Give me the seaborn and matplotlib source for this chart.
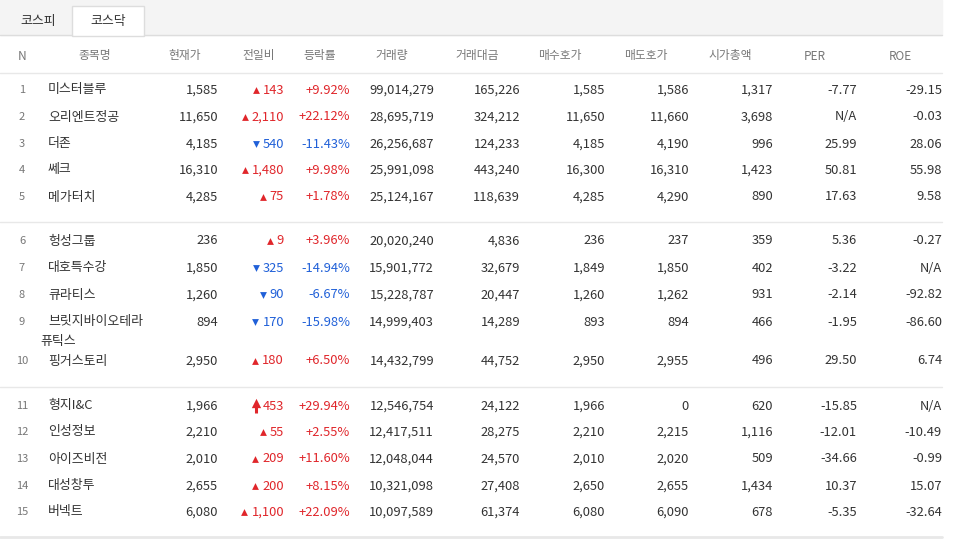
import matplotlib
matplotlib.use('Agg')
import seaborn as sns
import matplotlib.pyplot as plt
from matplotlib import font_manager
from matplotlib.patches import Rectangle

ranks = list(range(1, 16))
names = ["미스터블루", "오리엔트정공", "더존", "쎄크", "메가터치",
         "헝성그룹", "대호특수강", "큐라티스", "브릿지바이오테라\n퓨틱스", "핑거스토리",
         "형지I&C", "인성정보", "아이즈비전", "대성창투", "버넥트"]
price = ["1,585", "11,650", "4,185", "16,310", "4,285", "236", "1,850", "1,260", "894", "2,950",
         "1,966", "2,210", "2,010", "2,655", "6,080"]
change = ["143", "2,110", "540", "1,480", "75", "9", "325", "90", "170", "180",
          "453", "55", "209", "200", "1,100"]
direction = ["up", "up", "down", "up", "up", "up", "down", "down", "down", "up",
             "limit", "up", "up", "up", "up"]
rate = ["+9.92%", "+22.12%", "-11.43%", "+9.98%", "+1.78%", "+3.96%", "-14.94%", "-6.67%", "-15.98%", "+6.50%",
        "+29.94%", "+2.55%", "+11.60%", "+8.15%", "+22.09%"]
volume = ["99,014,279", "28,695,719", "26,256,687", "25,991,098", "25,124,167", "20,020,240", "15,901,772",
          "15,228,787", "14,999,403", "14,432,799", "12,546,754", "12,417,511", "12,048,044", "10,321,098", "10,097,589"]
amount = ["165,226", "324,212", "124,233", "443,240", "118,639", "4,836", "32,679", "20,447", "14,289", "44,752",
          "24,122", "28,275", "24,570", "27,408", "61,374"]
bid = ["1,585", "11,650", "4,185", "16,300", "4,285", "236", "1,849", "1,260", "893", "2,950",
       "1,966", "2,210", "2,010", "2,650", "6,080"]
ask = ["1,586", "11,660", "4,190", "16,310", "4,290", "237", "1,850", "1,262", "894", "2,955",
       "0", "2,215", "2,020", "2,655", "6,090"]
mcap = ["1,317", "3,698", "996", "1,423", "890", "359", "402", "931", "466", "496",
        "620", "1,116", "509", "1,434", "678"]
per = ["-7.77", "N/A", "25.99", "50.81", "17.63", "5.36", "-3.22", "-2.14", "-1.95", "29.50",
       "-15.85", "-12.01", "-34.66", "10.37", "-5.35"]
roe = ["-29.15", "-0.03", "28.06", "55.98", "9.58", "-0.27", "N/A", "-92.82", "-86.60", "6.74",
       "N/A", "-10.49", "-0.99", "15.07", "-32.64"]
headers = ["N", "종목명", "현재가", "전일비", "등락률", "거래량", "거래대금", "매수호가", "매도호가", "시가총액", "PER", "ROE"]

sns.set_style("white")
available = {f.name for f in font_manager.fontManager.ttflist}
cjk = [f for f in ["Noto Sans CJK KR", "Noto Sans CJK JP", "Noto Sans CJK SC", "Noto Sans CJK TC"] if f in available]
plt.rcParams['font.family'] = cjk + ['DejaVu Sans']
plt.rcParams['font.sans-serif'] = cjk + ['DejaVu Sans']

fig = plt.figure(figsize=(9.66, 5.43), dpi=100)
ax = fig.add_axes([0, 0, 1, 1])
ax.set_xlim(0, 966)
ax.set_ylim(543, 0)
ax.axis('off')

dark = '#333333'
grey = '#777777'
red = '#e0262b'
blue = '#2060d8'
fs = 9.3

# tabs
ax.add_patch(Rectangle((0, 0), 942, 35, color='#f4f4f4', zorder=0))
ax.add_patch(Rectangle((72, 6), 72, 30, facecolor='white', edgecolor='#dddddd', zorder=1))
ax.text(38, 21, "코스피", ha='center', va='center', fontsize=fs, color=dark)
ax.text(108, 21, "코스닥", ha='center', va='center', fontsize=fs, color=dark, zorder=2)
ax.plot([0, 72], [35, 35], color='#dddddd', lw=1)
ax.plot([144, 942], [35, 35], color='#dddddd', lw=1)

header_x = [22, 95, 185, 259, 320, 392, 477, 560, 646, 730, 815, 900]
for hx, h in zip(header_x, headers):
    ax.text(hx, 56, h, ha='center', va='center', fontsize=8.5, color=grey)
for ly in [73, 222, 387]:
    ax.plot([0, 942], [ly, ly], color='#e8e8e8', lw=1)
ax.plot([0, 942], [537, 537], color='#e8e8e8', lw=2)

row_y = [90, 117, 144, 170, 197, 241, 268, 295, 322, 361, 406, 432, 459, 486, 512]
right_cols = [(218, price), (434, volume), (520, amount), (605, bid), (689, ask),
              (773, mcap), (857, per), (942, roe)]

fig.canvas.draw()
renderer = fig.canvas.get_renderer()
for i, y in enumerate(row_y):
    ax.text(22, y, str(ranks[i]), ha='center', va='center', fontsize=8, color=grey)
    if "\n" in names[i]:
        a, b = names[i].split("\n")
        ax.text(48, y, a, ha='left', va='center', fontsize=fs, color=dark)
        ax.text(40, y + 19, b, ha='left', va='center', fontsize=fs, color=dark)
    else:
        ax.text(48, y, names[i], ha='left', va='center', fontsize=fs, color=dark)
    for cx, col in right_cols:
        ax.text(cx, y, col[i], ha='right', va='center', fontsize=fs, color=dark)
    c = blue if direction[i] == "down" else red
    t = ax.text(284, y, change[i], ha='right', va='center', fontsize=fs, color=c)
    w = t.get_window_extent(renderer).width
    mx = 284 - w - 7
    if direction[i] == "limit":
        ax.plot([mx, mx], [y - 3, y + 7], color=c, lw=2.2, solid_capstyle='butt')
        ax.scatter([mx], [y - 3], marker='^', s=45, color=c, linewidths=0)
    else:
        ax.scatter([mx], [y], marker='^' if direction[i] != "down" else 'v', s=24, color=c, linewidths=0)
    ax.text(350, y, rate[i], ha='right', va='center', fontsize=fs, color=c)

fig.savefig("out.png", dpi=100)
